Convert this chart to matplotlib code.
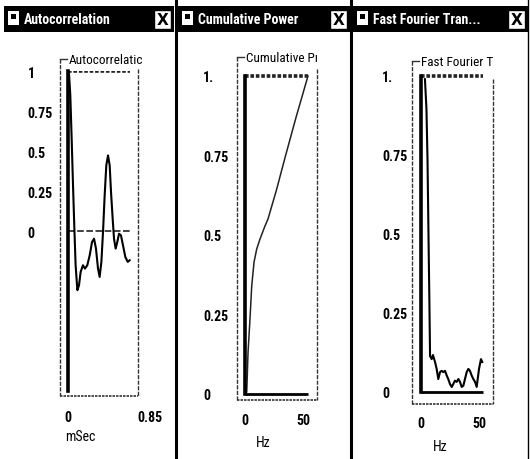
import matplotlib
matplotlib.use("Agg")
import matplotlib.pyplot as plt
from matplotlib.patches import Rectangle
from matplotlib import font_manager

names = {f.name for f in font_manager.fontManager.ttflist}
NARROW = None
for cand in ['Liberation Sans Narrow', 'Roboto Condensed', 'Open Sans Condensed', 'Liberation Sans']:
    if cand in names:
        NARROW = [cand, 'DejaVu Sans']
        break
if NARROW is None:
    NARROW = ['DejaVu Sans']
CONDENSED = NARROW[0] != 'Liberation Sans'
plt.rcParams['font.family'] = NARROW

# ---------------- data ----------------
window_titles = ["Autocorrelation", "Cumulative Power", "Fast Fourier Tran..."]
box_labels = ["Autocorrelatic", "Cumulative P\u0131", "Fast Fourier T"]
x_labels = ["mSec", "Hz", "Hz"]

ac_y_ticks = [0, 0.25, 0.5, 0.75, 1]
ac_y_ticklabels = ["0", "0.25", "0.5", "0.75", "1"]
ac_x_ticks = [0, 0.85]
ac_x_ticklabels = ["0", "0.85"]
ac_lag = [0.0, 0.010, 0.024, 0.038, 0.052, 0.066, 0.079, 0.097, 0.114, 0.131,
          0.155, 0.176, 0.200, 0.225, 0.249, 0.270, 0.290, 0.311, 0.328, 0.346,
          0.363, 0.380, 0.397, 0.415, 0.432, 0.446, 0.463, 0.477, 0.494, 0.511,
          0.529, 0.549, 0.570, 0.594, 0.619, 0.639]
ac_val = [1.0, 0.99, 0.846, 0.576, 0.285, 0.015, -0.214, -0.37, -0.339, -0.256,
          -0.214, -0.235, -0.214, -0.152, -0.069, -0.048, -0.11, -0.235, -0.287, -0.193,
          -0.006, 0.222, 0.41, 0.472, 0.41, 0.243, 0.077, -0.048, -0.11, -0.069,
          -0.017, -0.027, -0.089, -0.162, -0.193, -0.183]

cp_y_ticks = [0, 0.25, 0.5, 0.75, 1]
cp_y_ticklabels = ["0", "0.25", "0.5", "0.75", "1."]
cp_x_ticks = [0, 50]
cp_x_ticklabels = ["0", "50"]
cp_freq = [0.0, 1.5, 2.6, 4.3, 5.8, 7.8, 10.1, 12.9, 17.2, 19.8, 27.0, 35.0, 44.0, 54.3]
cp_val = [0.0, 0.006, 0.13, 0.236, 0.34, 0.415, 0.456, 0.487, 0.528, 0.55, 0.64, 0.75, 0.87, 1.0]

fft_y_ticks = [0, 0.25, 0.5, 0.75, 1]
fft_y_ticklabels = ["0", "0.25", "0.5", "0.75", "1."]
fft_x_ticks = [0, 50]
fft_x_ticklabels = ["0", "50"]
fft_freq = [3.4, 4.7, 5.6, 6.5, 7.2, 7.8, 9.2, 10.3, 12.1, 13.5, 14.9, 16.4, 17.8,
            19.2, 20.7, 22.2, 23.5, 25.0, 26.5, 27.8, 29.3, 30.8, 32.2, 33.6, 35.1,
            36.5, 37.9, 39.4, 40.8, 42.2, 43.7, 45.1, 46.6, 48.0, 50.0, 51.7, 52.8]
fft_val = [0.99, 0.896, 0.737, 0.484, 0.294, 0.114, 0.104, 0.117, 0.095, 0.073, 0.041,
           0.063, 0.067, 0.063, 0.067, 0.052, 0.041, 0.025, 0.016, 0.025, 0.036, 0.032,
           0.041, 0.032, 0.016, 0.02, 0.041, 0.063, 0.073, 0.067, 0.052, 0.041, 0.032,
           0.016, 0.073, 0.104, 0.095]

# ---------------- figure ----------------
W, H = 530, 460
fig = plt.figure(figsize=(W / 100, H / 100), dpi=100)
fig.patch.set_facecolor("white")

bg = fig.add_axes([0, 0, 1, 1])
bg.set_xlim(0, W)
bg.set_ylim(H, 0)
bg.axis("off")

TICK_FS = 10 if CONDENSED else 8.8
TITLE_FS = 10 if CONDENSED else 9
BOX_FS = 9.5 if CONDENSED else 8.2


def px_axes(left, top, right, bottom):
    return fig.add_axes([left / W, 1 - bottom / H, (right - left) / W, (bottom - top) / H])


# separators between windows
for xs in (176, 351):
    bg.plot([xs, xs], [0, H], color="black", lw=2.2)
bg.plot([528, 528], [0, H], color="black", lw=1.0)

# title bars
bars = [(4, 174), (178, 350), (353, 528)]
for (x0, x1), title in zip(bars, window_titles):
    bg.add_patch(Rectangle((x0, 7), x1 - x0, 26, facecolor="black", edgecolor="none"))
    # icon
    bg.add_patch(Rectangle((x0 + 4, 12), 11, 14, facecolor="white", edgecolor="none"))
    bg.add_patch(Rectangle((x0 + 7, 15), 5, 5, facecolor="black", edgecolor="none"))
    bg.text(x0 + 20, 20.5, title, color="white", fontsize=TITLE_FS, fontweight="bold",
            ha="left", va="center", family=NARROW)
    # close box
    bg.add_patch(Rectangle((x1 - 20, 11), 17, 19, facecolor="white", edgecolor="black", lw=1))
    bg.text(x1 - 11.5, 20.5, "X", color="black", fontsize=11, fontweight="bold",
            ha="center", va="center", family=['DejaVu Sans'])

# outer group boxes: left, top, right, bottom, right line start, label x
boxes = [(60, 60, 138, 397, 70, 69), (237, 58, 317, 401, 70, 246), (412, 62, 493, 405, 80, 421)]
for (l, t, r, b, rs, lx), lab in zip(boxes, box_labels):
    bg.plot([l, l], [t, b], color="#333333", lw=1.0, ls=(0, (3, 1)))
    bg.plot([l, lx - 2], [t, t], color="#333333", lw=1.0)
    bg.plot([r, r], [rs, b], color="#333333", lw=1.0, ls=(0, (3, 1)))
    bg.plot([l, r], [b, b], color="#333333", lw=1.2, ls=(0, (1.5, 0.6)))
    bg.text(lx, t, lab, fontsize=BOX_FS, ha="left", va="center", color="black",
            family=NARROW)


def style_axes(ax, yticks, ylabels, xticks, xlabels, ypad, xpad):
    for s in ("top", "right", "bottom"):
        ax.spines[s].set_visible(False)
    ax.spines["left"].set_linewidth(2.6)
    ax.patch.set_alpha(0)
    ax.set_yticks(yticks)
    ax.set_yticklabels(ylabels)
    ax.set_xticks(xticks)
    ax.set_xticklabels(xlabels)
    ax.tick_params(axis="y", length=0, pad=ypad, labelsize=TICK_FS)
    ax.tick_params(axis="x", length=0, pad=xpad, labelsize=TICK_FS)
    for t in ax.get_yticklabels():
        t.set_horizontalalignment("left")
        t.set_family(NARROW)
        t.set_fontweight("bold")
    for t in ax.get_xticklabels():
        t.set_family(NARROW)
        t.set_fontweight("bold")


# ---- Autocorrelation ----
ax1 = px_axes(68, 72, 150, 397)
ax1.set_xlim(0, 0.85)
ax1.set_ylim(-(397 - 232) / 160, 1.0)
ax1.spines["left"].set_bounds(-1.0, 1.0)
style_axes(ax1, ac_y_ticks, ac_y_ticklabels, ac_x_ticks, ac_x_ticklabels, 29, 10)
ax1.hlines(1.0, 0, 0.64, color="#222222", lw=2.6, ls=(0, (1, 0.5)))
ax1.hlines(0.0, 0, 0.64, color="#222222", lw=1.2, ls=(0, (4, 1.5)))
ax1.plot(ac_lag, ac_val, color="black", lw=1.5)

# ---- Cumulative power ----
ax2 = px_axes(245, 77, 303, 395)
ax2.set_xlim(0, 50)
ax2.set_ylim(0, 1.0)
style_axes(ax2, cp_y_ticks, cp_y_ticklabels, cp_x_ticks, cp_x_ticklabels, 30, 14)
ax2.spines["left"].set_bounds(0, 1.0)
ax2.hlines(1.0, 0, 54.3, color="#222222", lw=2.6, ls=(0, (1, 0.5)), clip_on=False)
ax2.hlines(0.0, 0, 54.3, color="black", lw=2.0, clip_on=False)
ax2.plot(cp_freq, cp_val, color="#222222", lw=1.1, clip_on=False)

# ---- FFT ----
ax3 = px_axes(421, 77, 479, 393)
ax3.set_xlim(0, 50)
ax3.set_ylim(0, 1.0)
style_axes(ax3, fft_y_ticks, fft_y_ticklabels, fft_x_ticks, fft_x_ticklabels, 28, 17)
ax3.spines["left"].set_bounds(0, 1.0)
ax3.hlines(1.0, 0, 53.5, color="#222222", lw=2.6, ls=(0, (1, 0.5)), clip_on=False)
ax3.hlines(0.0, 0, 53.5, color="black", lw=2.0, clip_on=False)
ax3.plot(fft_freq, fft_val, color="black", lw=1.5, clip_on=False)

# axis labels
for (x, y), lab in zip([(80, 437), (263, 443), (440, 447)], x_labels):
    bg.text(x, y, lab, fontsize=TICK_FS, ha="center", va="center", family=NARROW)

fig.savefig("out.png", dpi=100, facecolor="white")
